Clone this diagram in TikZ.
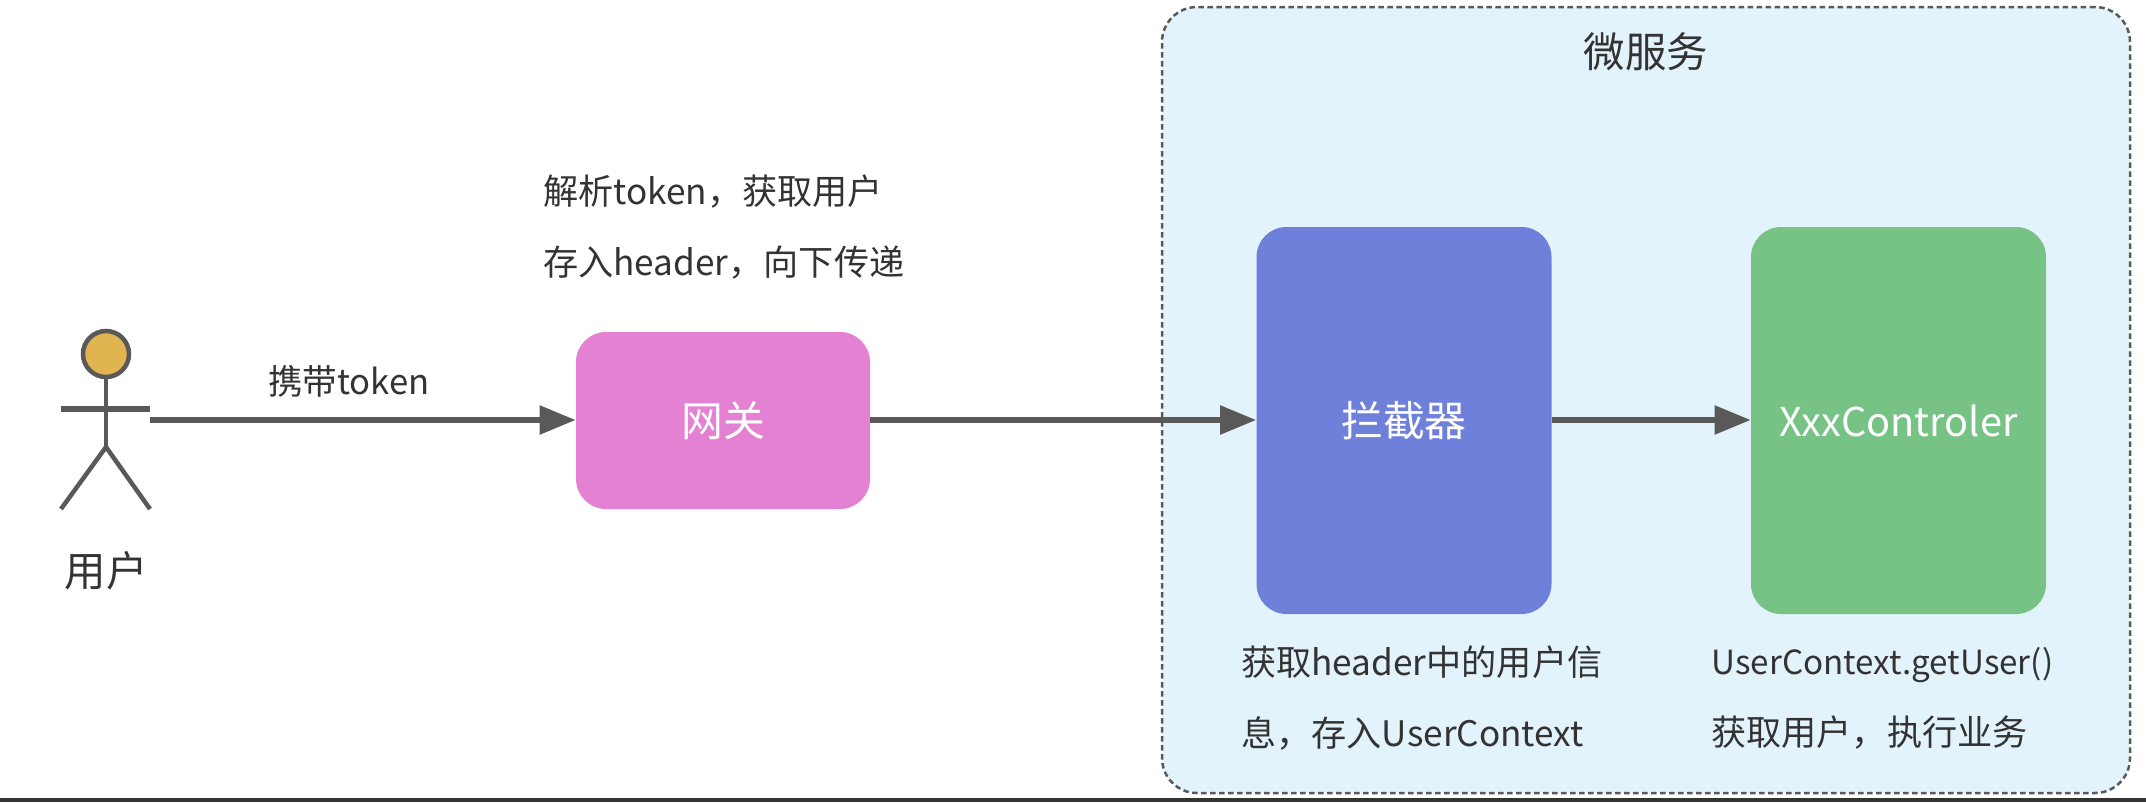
\documentclass[tikz,border=0pt]{standalone}
\usepackage{fontspec}
\setmainfont{Noto Sans CJK SC}
\usepackage{xcolor}
\usetikzlibrary{calc,arrows.meta,positioning}
\definecolor{LineGray}{RGB}{89, 89, 89}
\definecolor{TextGray}{RGB}{51, 51, 51}
\definecolor{GateePink}{RGB}{228, 129, 211}
\definecolor{CepBlue}{RGB}{111, 128, 219}
\definecolor{CtrlGreen}{RGB}{119, 194, 133}
\definecolor{SvcBlue}{RGB}{227, 243, 252}
\definecolor{HeadGold}{RGB}{224, 180, 79}

\begin{document}
\begin{tikzpicture}[>=Latex,
  blk/.style={rounded corners=0.6cm, align=center, text=white, inner sep=0pt,
              font=\fontsize{23.8}{28}\selectfont},
  svc/.style={draw=LineGray, line width=0.05cm, dash pattern=on 0.11cm off 0.07cm,
              rounded corners=0.7cm, fill=SvcBlue, inner sep=0pt,
              minimum width=19.36cm, minimum height=15.72cm},
  note/.style={align=left, anchor=west, inner sep=0pt, text=TextGray,
               font=\fontsize{20}{40.4}\selectfont},
  lab/.style={text=TextGray, inner sep=0pt, font=\fontsize{23.6}{28}\selectfont},
  sig/.style={-{Triangle[length=0.72cm,width=0.56cm]}, draw=LineGray, line width=0.11cm},
  limb/.style={draw=LineGray, line width=0.09cm}]
  \useasboundingbox (0,0) rectangle (42.92,-16.04);
  \node[svc] (svc) at (32.92,-8.0) {};
  \node[lab, below=0.52cm of svc.north, yshift=-0.02cm] (svctitle) {微服务};
  % user figure
  \node[draw=LineGray, fill=HeadGold, line width=0.09cm, circle, minimum size=0.92cm, inner sep=0pt] (head) at (2.12,-7.08) {};
  \coordinate (hip) at (2.12,-8.94);
  \coordinate (armL) at (1.22,-8.18);
  \coordinate (armR) at (3.0,-8.18);
  \coordinate (footL) at (1.22,-10.18);
  \coordinate (footR) at (3.0,-10.18);
  \coordinate (hand) at (3.0,-8.4);
  \draw[limb] (head.south) -- (hip);
  \draw[limb, line width=0.12cm] (armL) -- (armR);
  \draw[limb] (footL) -- (hip) -- (footR);
  \node[lab] (user) at (2.12,-11.42) {用户};

  \node[blk, fill=GateePink, minimum width=5.88cm, minimum height=3.54cm] (gw) at (14.46,-8.41) {网关};
  \node[blk, fill=CepBlue, minimum width=5.9cm, minimum height=7.74cm] (cep) at (28.08,-8.41) {拦截器};
  \node[blk, fill=CtrlGreen, minimum width=5.9cm, minimum height=7.74cm, font=\fontsize{22.6}{28}\selectfont] (ctrl) at (37.97,-8.41) {XxxControler};

  \draw[sig] (hand) -- node[above=0.39cm, inner sep=0pt, text=TextGray, font=\fontsize{19.7}{24}\selectfont, xshift=-0.28cm] (carry) {携带token} (gw.west |- hand);
  \draw[sig] (gw.east |- hand) -- (cep.west |- hand);
  \draw[sig] (cep.east |- hand) -- (ctrl.west |- hand);

  \node[note] (gwnote) at (10.86,-4.55) {解析token，获取用户\\存入header，向下传递};
  \node[note] (cepnote) at (24.82,-13.96) {获取header中的用户信\\息，存入UserContext};
  \node[note] (ctrlnote) at (34.22,-13.96) {{\fontsize{18.9}{40.4}\selectfont UserContext.getUser()}\\获取用户，执行业务};

  % dark edge along the bottom
  \coordinate (edgeL) at (0,-16.0);
  \coordinate (edgeR) at (42.92,-16.0);
  \draw[draw=TextGray, line width=0.08cm] (edgeL) -- (edgeR);
\end{tikzpicture}
\end{document}
